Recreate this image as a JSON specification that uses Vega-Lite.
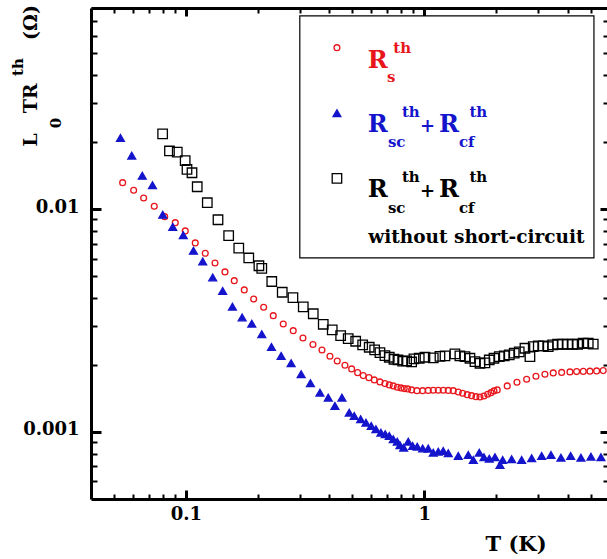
{
  "$schema": "https://vega.github.io/schema/vega-lite/v6.json",
  "width": 517,
  "height": 491,
  "autosize": {"type": "none"},
  "padding": {"left": 91, "top": 8, "right": 0, "bottom": 60},
  "background": "white",
  "config": {
    "view": {"stroke": null},
    "font": "DejaVu Serif",
    "axis": {
      "grid": false,
      "domainColor": "black",
      "domainWidth": 3,
      "tickColor": "black",
      "labelFont": "DejaVu Serif",
      "labelFontWeight": "bold",
      "labelFontSize": 18,
      "labelColor": "black",
      "titleColor": "black"
    }
  },
  "datasets": {
    "pts": [
      {"series": "R_s", "T": 0.0543, "R": 0.01315}, {"series": "R_s", "T": 0.0604, "R": 0.01216}, {"series": "R_s", "T": 0.06652, "R": 0.01123}, {"series": "R_s", "T": 0.0737, "R": 0.01031}, {"series": "R_s", "T": 0.08149, "R": 0.009256}, {"series": "R_s", "T": 0.09028, "R": 0.008699}, {"series": "R_s", "T": 0.09942, "R": 0.007986}, {"series": "R_s", "T": 0.1095, "R": 0.007054}, {"series": "R_s", "T": 0.1206, "R": 0.006341}, {"series": "R_s", "T": 0.1325, "R": 0.005736}, {"series": "R_s", "T": 0.1459, "R": 0.005227}, {"series": "R_s", "T": 0.1596, "R": 0.004776}, {"series": "R_s", "T": 0.1758, "R": 0.00434}, {"series": "R_s", "T": 0.1925, "R": 0.003954}, {"series": "R_s", "T": 0.212, "R": 0.003628}, {"series": "R_s", "T": 0.2326, "R": 0.003327}, {"series": "R_s", "T": 0.2562, "R": 0.003053}, {"series": "R_s", "T": 0.2821, "R": 0.002849}, {"series": "R_s", "T": 0.3099, "R": 0.002642}, {"series": "R_s", "T": 0.3413, "R": 0.00247}, {"series": "R_s", "T": 0.3724, "R": 0.002334}, {"series": "R_s", "T": 0.4021, "R": 0.002187}, {"series": "R_s", "T": 0.4315, "R": 0.002083}, {"series": "R_s", "T": 0.4649, "R": 0.001993}, {"series": "R_s", "T": 0.496, "R": 0.001918}, {"series": "R_s", "T": 0.5256, "R": 0.001846}, {"series": "R_s", "T": 0.5547, "R": 0.00179}, {"series": "R_s", "T": 0.5861, "R": 0.001753}, {"series": "R_s", "T": 0.6171, "R": 0.001712}, {"series": "R_s", "T": 0.6519, "R": 0.001677}, {"series": "R_s", "T": 0.684, "R": 0.001648}, {"series": "R_s", "T": 0.7133, "R": 0.001626}, {"series": "R_s", "T": 0.7413, "R": 0.001609}, {"series": "R_s", "T": 0.7705, "R": 0.001588}, {"series": "R_s", "T": 0.7985, "R": 0.001576}, {"series": "R_s", "T": 0.8242, "R": 0.001565}, {"series": "R_s", "T": 0.8519, "R": 0.00156}, {"series": "R_s", "T": 0.8853, "R": 0.001544}, {"series": "R_s", "T": 0.9318, "R": 0.001532}, {"series": "R_s", "T": 0.9847, "R": 0.001532}, {"series": "R_s", "T": 1.039, "R": 0.001536}, {"series": "R_s", "T": 1.091, "R": 0.001539}, {"series": "R_s", "T": 1.145, "R": 0.001539}, {"series": "R_s", "T": 1.201, "R": 0.001539}, {"series": "R_s", "T": 1.261, "R": 0.001536}, {"series": "R_s", "T": 1.323, "R": 0.001532}, {"series": "R_s", "T": 1.389, "R": 0.001512}, {"series": "R_s", "T": 1.449, "R": 0.001492}, {"series": "R_s", "T": 1.515, "R": 0.00147}, {"series": "R_s", "T": 1.58, "R": 0.001455}, {"series": "R_s", "T": 1.648, "R": 0.00144}, {"series": "R_s", "T": 1.713, "R": 0.001435}, {"series": "R_s", "T": 1.78, "R": 0.00145}, {"series": "R_s", "T": 1.845, "R": 0.001476}, {"series": "R_s", "T": 1.905, "R": 0.001501}, {"series": "R_s", "T": 1.961, "R": 0.001528}, {"series": "R_s", "T": 2.024, "R": 0.001544}, {"series": "R_s", "T": 2.229, "R": 0.001609}, {"series": "R_s", "T": 2.449, "R": 0.001671}, {"series": "R_s", "T": 2.689, "R": 0.001724}, {"series": "R_s", "T": 2.942, "R": 0.001778}, {"series": "R_s", "T": 3.208, "R": 0.001816}, {"series": "R_s", "T": 3.476, "R": 0.001841}, {"series": "R_s", "T": 3.771, "R": 0.00185}, {"series": "R_s", "T": 4.085, "R": 0.00186}, {"series": "R_s", "T": 4.358, "R": 0.001866}, {"series": "R_s", "T": 4.645, "R": 0.00187}, {"series": "R_s", "T": 4.956, "R": 0.001874}, {"series": "R_s", "T": 5.287, "R": 0.001879}, {"series": "R_s", "T": 5.634, "R": 0.001885},
      {"series": "R_sc+R_cf", "T": 0.05316, "R": 0.02088}, {"series": "R_sc+R_cf", "T": 0.05931, "R": 0.0174}, {"series": "R_sc+R_cf", "T": 0.06564, "R": 0.01413}, {"series": "R_sc+R_cf", "T": 0.07244, "R": 0.01282}, {"series": "R_sc+R_cf", "T": 0.07998, "R": 0.009438}, {"series": "R_sc+R_cf", "T": 0.0881, "R": 0.008323}, {"series": "R_sc+R_cf", "T": 0.09752, "R": 0.007645}, {"series": "R_sc+R_cf", "T": 0.1076, "R": 0.006506}, {"series": "R_sc+R_cf", "T": 0.1177, "R": 0.005819}, {"series": "R_sc+R_cf", "T": 0.1296, "R": 0.004937}, {"series": "R_sc+R_cf", "T": 0.1427, "R": 0.004295}, {"series": "R_sc+R_cf", "T": 0.1568, "R": 0.00365}, {"series": "R_sc+R_cf", "T": 0.1722, "R": 0.003266}, {"series": "R_sc+R_cf", "T": 0.189, "R": 0.003062}, {"series": "R_sc+R_cf", "T": 0.2082, "R": 0.002745}, {"series": "R_sc+R_cf", "T": 0.2286, "R": 0.002407}, {"series": "R_sc+R_cf", "T": 0.251, "R": 0.002194}, {"series": "R_sc+R_cf", "T": 0.2764, "R": 0.002034}, {"series": "R_sc+R_cf", "T": 0.3045, "R": 0.001818}, {"series": "R_sc+R_cf", "T": 0.3331, "R": 0.001654}, {"series": "R_sc+R_cf", "T": 0.3651, "R": 0.001501}, {"series": "R_sc+R_cf", "T": 0.3957, "R": 0.001426}, {"series": "R_sc+R_cf", "T": 0.422, "R": 0.001308}, {"series": "R_sc+R_cf", "T": 0.4517, "R": 0.001426}, {"series": "R_sc+R_cf", "T": 0.4845, "R": 0.001221}, {"series": "R_sc+R_cf", "T": 0.5085, "R": 0.00118}, {"series": "R_sc+R_cf", "T": 0.5409, "R": 0.00114}, {"series": "R_sc+R_cf", "T": 0.5694, "R": 0.001101}, {"series": "R_sc+R_cf", "T": 0.5992, "R": 0.001064}, {"series": "R_sc+R_cf", "T": 0.627, "R": 0.001028}, {"series": "R_sc+R_cf", "T": 0.658, "R": 0.0009929}, {"series": "R_sc+R_cf", "T": 0.6859, "R": 0.0009765}, {"series": "R_sc+R_cf", "T": 0.7133, "R": 0.0009596}, {"series": "R_sc+R_cf", "T": 0.7413, "R": 0.0009275}, {"series": "R_sc+R_cf", "T": 0.7705, "R": 0.0009047}, {"series": "R_sc+R_cf", "T": 0.7908, "R": 0.0008716}, {"series": "R_sc+R_cf", "T": 0.8197, "R": 0.0008504}, {"series": "R_sc+R_cf", "T": 0.8568, "R": 0.0009047}, {"series": "R_sc+R_cf", "T": 0.8939, "R": 0.0008654}, {"series": "R_sc+R_cf", "T": 0.9346, "R": 0.0008592}, {"series": "R_sc+R_cf", "T": 0.9847, "R": 0.0008433}, {"series": "R_sc+R_cf", "T": 1.039, "R": 0.000842}, {"series": "R_sc+R_cf", "T": 1.091, "R": 0.0008074}, {"series": "R_sc+R_cf", "T": 1.145, "R": 0.0008158}, {"series": "R_sc+R_cf", "T": 1.201, "R": 0.0008218}, {"series": "R_sc+R_cf", "T": 1.261, "R": 0.0008024}, {"series": "R_sc+R_cf", "T": 1.389, "R": 0.0007804}, {"series": "R_sc+R_cf", "T": 1.53, "R": 0.0007885}, {"series": "R_sc+R_cf", "T": 1.606, "R": 0.0007488}, {"series": "R_sc+R_cf", "T": 1.701, "R": 0.0008074}, {"series": "R_sc+R_cf", "T": 1.78, "R": 0.00077}, {"series": "R_sc+R_cf", "T": 1.874, "R": 0.0007589}, {"series": "R_sc+R_cf", "T": 1.98, "R": 0.00077}, {"series": "R_sc+R_cf", "T": 2.078, "R": 0.000711}, {"series": "R_sc+R_cf", "T": 2.133, "R": 0.0007488}, {"series": "R_sc+R_cf", "T": 2.326, "R": 0.0007542}, {"series": "R_sc+R_cf", "T": 2.562, "R": 0.0007488}, {"series": "R_sc+R_cf", "T": 2.822, "R": 0.0007621}, {"series": "R_sc+R_cf", "T": 3.108, "R": 0.0007804}, {"series": "R_sc+R_cf", "T": 3.401, "R": 0.0007885}, {"series": "R_sc+R_cf", "T": 3.745, "R": 0.0007668}, {"series": "R_sc+R_cf", "T": 4.113, "R": 0.0007804}, {"series": "R_sc+R_cf", "T": 4.543, "R": 0.0007668}, {"series": "R_sc+R_cf", "T": 5.003, "R": 0.0007748}, {"series": "R_sc+R_cf", "T": 5.511, "R": 0.00077},
      {"series": "no short-circuit", "T": 0.0799, "R": 0.02176}, {"series": "no short-circuit", "T": 0.08535, "R": 0.01825}, {"series": "no short-circuit", "T": 0.09202, "R": 0.01803}, {"series": "no short-circuit", "T": 0.09933, "R": 0.01651}, {"series": "no short-circuit", "T": 0.1011, "R": 0.01508}, {"series": "no short-circuit", "T": 0.1061, "R": 0.01457}, {"series": "no short-circuit", "T": 0.1116, "R": 0.01261}, {"series": "no short-circuit", "T": 0.123, "R": 0.01069}, {"series": "no short-circuit", "T": 0.1364, "R": 0.008965}, {"series": "no short-circuit", "T": 0.1512, "R": 0.007605}, {"series": "no short-circuit", "T": 0.1667, "R": 0.006683}, {"series": "no short-circuit", "T": 0.1836, "R": 0.006039}, {"series": "no short-circuit", "T": 0.2025, "R": 0.005572}, {"series": "no short-circuit", "T": 0.2082, "R": 0.005419}, {"series": "no short-circuit", "T": 0.2293, "R": 0.004736}, {"series": "no short-circuit", "T": 0.2537, "R": 0.004238}, {"series": "no short-circuit", "T": 0.2813, "R": 0.004007}, {"series": "no short-circuit", "T": 0.3108, "R": 0.00364}, {"series": "no short-circuit", "T": 0.3423, "R": 0.003393}, {"series": "no short-circuit", "T": 0.377, "R": 0.003043}, {"series": "no short-circuit", "T": 0.4112, "R": 0.00287}, {"series": "no short-circuit", "T": 0.446, "R": 0.002706}, {"series": "no short-circuit", "T": 0.4798, "R": 0.002623}, {"series": "no short-circuit", "T": 0.5157, "R": 0.002553}, {"series": "no short-circuit", "T": 0.5516, "R": 0.002458}, {"series": "no short-circuit", "T": 0.5877, "R": 0.0024}, {"series": "no short-circuit", "T": 0.6194, "R": 0.002334}, {"series": "no short-circuit", "T": 0.6519, "R": 0.00227}, {"series": "no short-circuit", "T": 0.684, "R": 0.002201}, {"series": "no short-circuit", "T": 0.7133, "R": 0.002164}, {"series": "no short-circuit", "T": 0.7463, "R": 0.00212}, {"series": "no short-circuit", "T": 0.7758, "R": 0.002104}, {"series": "no short-circuit", "T": 0.8117, "R": 0.002077}, {"series": "no short-circuit", "T": 0.8437, "R": 0.002083}, {"series": "no short-circuit", "T": 0.8853, "R": 0.002061}, {"series": "no short-circuit", "T": 0.9053, "R": 0.002127}, {"series": "no short-circuit", "T": 0.9528, "R": 0.002142}, {"series": "no short-circuit", "T": 1.007, "R": 0.002164}, {"series": "no short-circuit", "T": 1.091, "R": 0.002149}, {"series": "no short-circuit", "T": 1.164, "R": 0.002183}, {"series": "no short-circuit", "T": 1.222, "R": 0.002194}, {"series": "no short-circuit", "T": 1.345, "R": 0.002239}, {"series": "no short-circuit", "T": 1.411, "R": 0.002194}, {"series": "no short-circuit", "T": 1.482, "R": 0.002178}, {"series": "no short-circuit", "T": 1.555, "R": 0.002142}, {"series": "no short-circuit", "T": 1.632, "R": 0.002068}, {"series": "no short-circuit", "T": 1.713, "R": 0.002034}, {"series": "no short-circuit", "T": 1.797, "R": 0.00204}, {"series": "no short-circuit", "T": 1.874, "R": 0.002104}, {"series": "no short-circuit", "T": 1.961, "R": 0.002142}, {"series": "no short-circuit", "T": 2.064, "R": 0.002178}, {"series": "no short-circuit", "T": 2.166, "R": 0.002194}, {"series": "no short-circuit", "T": 2.273, "R": 0.002216}, {"series": "no short-circuit", "T": 2.385, "R": 0.002256}, {"series": "no short-circuit", "T": 2.503, "R": 0.002286}, {"series": "no short-circuit", "T": 2.645, "R": 0.002375}, {"series": "no short-circuit", "T": 2.776, "R": 0.002178}, {"series": "no short-circuit", "T": 2.866, "R": 0.002415}, {"series": "no short-circuit", "T": 3.008, "R": 0.002432}, {"series": "no short-circuit", "T": 3.157, "R": 0.002432}, {"series": "no short-circuit", "T": 3.313, "R": 0.002415}, {"series": "no short-circuit", "T": 3.456, "R": 0.002458}, {"series": "no short-circuit", "T": 3.627, "R": 0.002475}, {"series": "no short-circuit", "T": 3.806, "R": 0.002475}, {"series": "no short-circuit", "T": 3.995, "R": 0.002475}, {"series": "no short-circuit", "T": 4.193, "R": 0.002475}, {"series": "no short-circuit", "T": 4.4, "R": 0.002475}, {"series": "no short-circuit", "T": 4.645, "R": 0.002501}, {"series": "no short-circuit", "T": 4.875, "R": 0.002501}, {"series": "no short-circuit", "T": 5.116, "R": 0.002478}
    ],
    "legend": [
      {"role": "box", "series": "title", "T": 0.3006, "T2": 5.151, "R": 0.07367, "R2": 0.006039},
      {"role": "sym", "series": "R_s", "T": 0.4303, "R": 0.05308},
      {"role": "sym", "series": "R_sc+R_cf", "T": 0.4303, "R": 0.02694},
      {"role": "sym", "series": "no short-circuit", "T": 0.4303, "R": 0.01376},
      {"role": "main", "series": "R_s", "text": "R", "T": 0.5794, "R": 0.0429},
      {"role": "sub", "series": "R_s", "text": "s", "T": 0.6973, "R": 0.03712},
      {"role": "sup", "series": "R_s", "text": "th", "T": 0.7413, "R": 0.05041},
      {"role": "main", "series": "R_sc+R_cf", "text": "R", "T": 0.5794, "R": 0.02221},
      {"role": "sub", "series": "R_sc+R_cf", "text": "sc", "T": 0.704, "R": 0.01898},
      {"role": "sup", "series": "R_sc+R_cf", "text": "th", "T": 0.8062, "R": 0.02594},
      {"role": "plus", "series": "R_sc+R_cf", "text": "+", "T": 0.9593, "R": 0.02221},
      {"role": "main", "series": "R_sc+R_cf", "text": "R", "T": 1.152, "R": 0.02221},
      {"role": "sub", "series": "R_sc+R_cf", "text": "cf", "T": 1.398, "R": 0.01898},
      {"role": "sup", "series": "R_sc+R_cf", "text": "th", "T": 1.547, "R": 0.02594},
      {"role": "main", "series": "no short-circuit", "text": "R", "T": 0.5794, "R": 0.01138},
      {"role": "sub", "series": "no short-circuit", "text": "sc", "T": 0.704, "R": 0.009645},
      {"role": "sup", "series": "no short-circuit", "text": "th", "T": 0.8062, "R": 0.0132},
      {"role": "plus", "series": "no short-circuit", "text": "+", "T": 0.9593, "R": 0.01138},
      {"role": "main", "series": "no short-circuit", "text": "R", "T": 1.152, "R": 0.01138},
      {"role": "sub", "series": "no short-circuit", "text": "cf", "T": 1.398, "R": 0.009645},
      {"role": "sup", "series": "no short-circuit", "text": "th", "T": 1.547, "R": 0.0132},
      {"role": "note", "series": "no short-circuit", "text": "without short-circuit", "T": 0.5822, "R": 0.007077},
      {"role": "ytitle", "series": "title", "text": "L", "T": 0.0238, "R": 0.01908},
      {"role": "ytitlesmall", "series": "title", "text": "0", "T": 0.02984, "R": 0.02307},
      {"role": "ytitle", "series": "title", "text": "TR", "T": 0.0238, "R": 0.02694},
      {"role": "ytitlesmall", "series": "title", "text": "th", "T": 0.0208, "R": 0.03962},
      {"role": "ytitle", "series": "title", "text": "(Ω)", "T": 0.0238, "R": 0.05747}
    ]
  },
  "layer": [
    {
      "data": {"name": "pts"},
      "mark": {"type": "point", "strokeWidth": 1.3, "opacity": 1},
      "encoding": {
        "x": {
          "field": "T", "type": "quantitative",
          "scale": {"type": "log", "domain": [0.04, 5.9], "nice": false},
          "axis": {
            "orient": "bottom",
            "values": [0.05, 0.06, 0.07, 0.08, 0.09, 0.1, 0.2, 0.3, 0.4, 0.5, 0.6, 0.7, 0.8, 0.9, 1, 2, 3, 4, 5],
            "format": "~g",
            "labelExpr": "datum.value == 0.1 || datum.value == 1 ? datum.label : ''",
            "tickSize": {"condition": {"test": "datum.value == 0.1 || datum.value == 1", "value": -9}, "value": -5},
            "tickWidth": {"condition": {"test": "datum.value == 0.1 || datum.value == 1", "value": 3}, "value": 2},
            "labelPadding": 15,
            "title": "T (K)",
            "titleFont": "DejaVu Serif",
            "titleFontWeight": "bold",
            "titleFontSize": 21,
            "titleX": 394,
            "titleY": 51,
            "titleAlign": "left",
            "titleBaseline": "alphabetic"
          }
        },
        "y": {
          "field": "R", "type": "quantitative",
          "scale": {"type": "log", "domain": [0.0005, 0.08], "nice": false},
          "axis": {
            "orient": "left",
            "values": [0.0006, 0.0007, 0.0008, 0.0009, 0.001, 0.002, 0.003, 0.004, 0.005, 0.006, 0.007, 0.008, 0.009, 0.01, 0.02, 0.03, 0.04, 0.05, 0.06, 0.07, 0.08],
            "format": "~g",
            "labelExpr": "datum.value == 0.001 || datum.value == 0.01 ? datum.label : ''",
            "tickSize": {"condition": {"test": "datum.value == 0.001 || datum.value == 0.01", "value": -10}, "value": -6},
            "tickWidth": {"condition": {"test": "datum.value == 0.001 || datum.value == 0.01", "value": 3}, "value": 2},
            "labelPadding": 22,
            "labelOffset": -2,
            "title": null
          }
        },
        "shape": {"field": "series", "type": "nominal", "scale": {"domain": ["R_s", "R_sc+R_cf", "no short-circuit"], "range": ["circle", "triangle-up", "square"]}, "legend": null},
        "size": {"field": "series", "type": "nominal", "scale": {"domain": ["R_s", "R_sc+R_cf", "no short-circuit"], "range": [34, 90, 50]}, "legend": null},
        "stroke": {"field": "series", "type": "nominal", "scale": {"domain": ["R_s", "R_sc+R_cf", "no short-circuit"], "range": ["#e8161c", "#1414cc", "#000000"]}, "legend": null},
        "fill": {"field": "series", "type": "nominal", "scale": {"domain": ["R_s", "R_sc+R_cf", "no short-circuit"], "range": ["transparent", "#1414cc", "transparent"]}, "legend": null}
      }
    },
    {
      "data": {"name": "legend"},
      "transform": [{"filter": "datum.role == 'box'"}],
      "mark": {"type": "rect", "fill": "white", "stroke": "black", "strokeWidth": 1.2},
      "encoding": {
        "x": {
          "field": "T", "type": "quantitative",
          "scale": {"type": "log", "domain": [0.04, 5.9], "nice": false},
          "axis": {
            "orient": "top",
            "values": [0.05, 0.06, 0.07, 0.08, 0.09, 0.1, 0.2, 0.3, 0.4, 0.5, 0.6, 0.7, 0.8, 0.9, 1, 2, 3, 4, 5],
            "labels": false,
            "tickSize": {"condition": {"test": "datum.value == 0.1 || datum.value == 1", "value": -8}, "value": -5},
            "tickWidth": {"condition": {"test": "datum.value == 0.1 || datum.value == 1", "value": 3}, "value": 2},
            "title": null
          }
        },
        "x2": {"field": "T2"},
        "y": {
          "field": "R", "type": "quantitative",
          "scale": {"type": "log", "domain": [0.0005, 0.08], "nice": false},
          "axis": {
            "orient": "right",
            "values": [0.0006, 0.0007, 0.0008, 0.0009, 0.001, 0.002, 0.003, 0.004, 0.005, 0.006, 0.007, 0.008, 0.009, 0.01, 0.02, 0.03, 0.04, 0.05, 0.06, 0.07, 0.08],
            "labels": false,
            "tickSize": {"condition": {"test": "datum.value == 0.001 || datum.value == 0.01", "value": -8}, "value": -5},
            "tickWidth": {"condition": {"test": "datum.value == 0.001 || datum.value == 0.01", "value": 3}, "value": 2},
            "title": null
          }
        },
        "y2": {"field": "R2"}
      }
    },
    {
      "data": {"name": "legend"},
      "transform": [{"filter": "datum.role == 'sym'"}],
      "mark": {"type": "point", "strokeWidth": 1.3, "opacity": 1},
      "encoding": {
        "x": {"field": "T", "type": "quantitative", "scale": {"type": "log", "domain": [0.04, 5.9], "nice": false}, "axis": null},
        "y": {"field": "R", "type": "quantitative", "scale": {"type": "log", "domain": [0.0005, 0.08], "nice": false}, "axis": null},
        "shape": {"field": "series", "type": "nominal", "legend": null},
        "size": {"field": "series", "type": "nominal", "legend": null},
        "stroke": {"field": "series", "type": "nominal", "legend": null},
        "fill": {"field": "series", "type": "nominal", "legend": null}
      }
    },
    {
      "data": {"name": "legend"},
      "transform": [{"filter": "datum.role == 'main'"}],
      "mark": {"type": "text", "align": "left", "baseline": "alphabetic", "font": "DejaVu Serif", "fontWeight": "bold", "fontSize": 24},
      "encoding": {
        "x": {"field": "T", "type": "quantitative", "scale": {"type": "log", "domain": [0.04, 5.9], "nice": false}, "axis": null},
        "y": {"field": "R", "type": "quantitative", "scale": {"type": "log", "domain": [0.0005, 0.08], "nice": false}, "axis": null},
        "text": {"field": "text"},
        "color": {"field": "series", "type": "nominal", "scale": {"domain": ["R_s", "R_sc+R_cf", "no short-circuit", "title"], "range": ["#e8161c", "#1414cc", "#000000", "#000000"]}, "legend": null}
      }
    },
    {
      "data": {"name": "legend"},
      "transform": [{"filter": "datum.role == 'sub' || datum.role == 'sup'"}],
      "mark": {"type": "text", "align": "left", "baseline": "alphabetic", "font": "DejaVu Serif", "fontWeight": "bold", "fontSize": 15},
      "encoding": {
        "x": {"field": "T", "type": "quantitative", "scale": {"type": "log", "domain": [0.04, 5.9], "nice": false}, "axis": null},
        "y": {"field": "R", "type": "quantitative", "scale": {"type": "log", "domain": [0.0005, 0.08], "nice": false}, "axis": null},
        "text": {"field": "text"},
        "color": {"field": "series", "type": "nominal", "legend": null}
      }
    },
    {
      "data": {"name": "legend"},
      "transform": [{"filter": "datum.role == 'plus'"}],
      "mark": {"type": "text", "align": "left", "baseline": "alphabetic", "font": "DejaVu Serif", "fontWeight": "bold", "fontSize": 18},
      "encoding": {
        "x": {"field": "T", "type": "quantitative", "scale": {"type": "log", "domain": [0.04, 5.9], "nice": false}, "axis": null},
        "y": {"field": "R", "type": "quantitative", "scale": {"type": "log", "domain": [0.0005, 0.08], "nice": false}, "axis": null},
        "text": {"field": "text"},
        "color": {"field": "series", "type": "nominal", "legend": null}
      }
    },
    {
      "data": {"name": "legend"},
      "transform": [{"filter": "datum.role == 'note'"}],
      "mark": {"type": "text", "align": "left", "baseline": "alphabetic", "font": "DejaVu Serif", "fontWeight": "bold", "fontSize": 18.5},
      "encoding": {
        "x": {"field": "T", "type": "quantitative", "scale": {"type": "log", "domain": [0.04, 5.9], "nice": false}, "axis": null},
        "y": {"field": "R", "type": "quantitative", "scale": {"type": "log", "domain": [0.0005, 0.08], "nice": false}, "axis": null},
        "text": {"field": "text"},
        "color": {"field": "series", "type": "nominal", "legend": null}
      }
    },
    {
      "data": {"name": "legend"},
      "transform": [{"filter": "datum.role == 'ytitle'"}],
      "mark": {"type": "text", "align": "left", "baseline": "alphabetic", "angle": 270, "font": "DejaVu Serif", "fontWeight": "bold", "fontSize": 19},
      "encoding": {
        "x": {"field": "T", "type": "quantitative", "scale": {"type": "log", "domain": [0.04, 5.9], "nice": false}, "axis": null},
        "y": {"field": "R", "type": "quantitative", "scale": {"type": "log", "domain": [0.0005, 0.08], "nice": false}, "axis": null},
        "text": {"field": "text"},
        "color": {"field": "series", "type": "nominal", "legend": null}
      }
    },
    {
      "data": {"name": "legend"},
      "transform": [{"filter": "datum.role == 'ytitlesmall'"}],
      "mark": {"type": "text", "align": "left", "baseline": "alphabetic", "angle": 270, "font": "DejaVu Serif", "fontWeight": "bold", "fontSize": 15},
      "encoding": {
        "x": {"field": "T", "type": "quantitative", "scale": {"type": "log", "domain": [0.04, 5.9], "nice": false}, "axis": null},
        "y": {"field": "R", "type": "quantitative", "scale": {"type": "log", "domain": [0.0005, 0.08], "nice": false}, "axis": null},
        "text": {"field": "text"},
        "color": {"field": "series", "type": "nominal", "legend": null}
      }
    }
  ],
  "resolve": {"axis": {"x": "independent", "y": "independent"}}
}
